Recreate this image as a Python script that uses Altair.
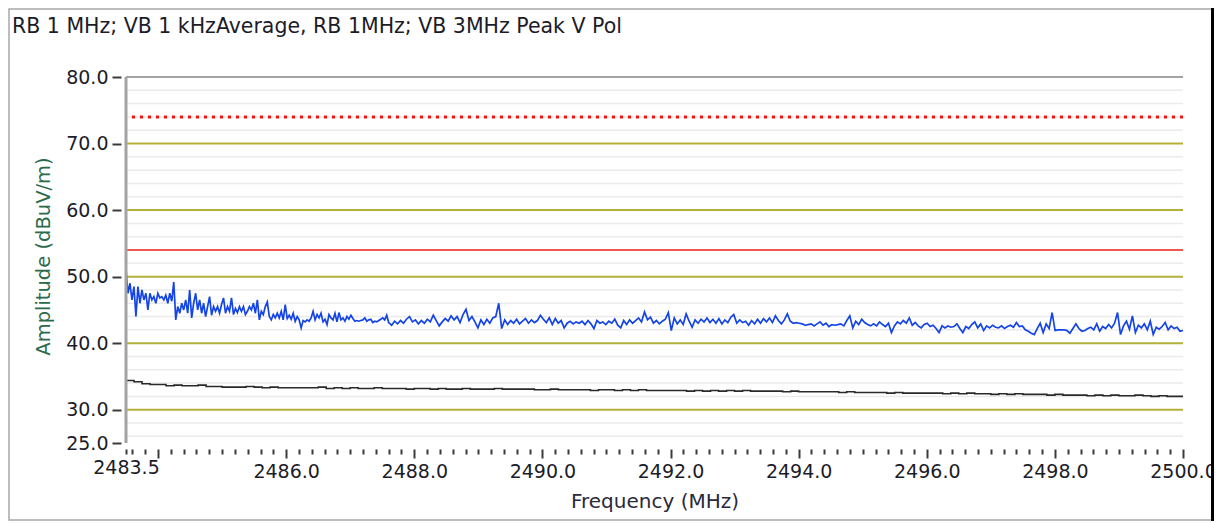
import altair as alt
import pandas as pd
import numpy as np

TITLE = "RB 1 MHz; VB 1 kHzAverage, RB 1MHz; VB 3MHz Peak V Pol"
X_TITLE = "Frequency (MHz)"
Y_TITLE = "Amplitude (dBuV/m)"

F_START, F_END = 2483.5, 2500.0
Y_MIN, Y_MAX = 25.0, 80.0

# Peak trace (blue), first part 2483.5 - 2487.57 MHz
peak_seg1 = [51.0, 47.5, 49.0, 46.5, 48.5, 44.0, 48.5, 46.0, 48.0, 46.5, 47.5, 45.0, 47.5, 46.5, 47.0, 46.0,
             47.5, 46.8, 47.0, 46.5, 47.2, 46.0, 47.5, 46.3, 49.2, 43.5, 45.5, 44.5, 46.0, 45.0, 46.5, 44.5,
             48.0, 43.8, 46.0, 47.5, 45.0, 46.5, 44.5, 46.0, 44.0, 45.5, 47.0, 44.2, 45.5, 44.8, 45.5, 44.5,
             45.8, 46.8, 44.5, 45.5, 44.8, 46.8, 44.3, 45.2, 44.6, 45.5, 44.8, 45.5, 44.3, 44.8, 45.5, 45.0,
             46.0, 44.5, 46.5, 43.5, 44.8, 44.3, 45.5, 46.2, 44.0, 43.5, 44.3, 43.8, 44.5, 43.8, 44.8, 43.5,
             45.8, 43.7, 44.2, 43.6, 44.5, 43.3, 44.0, 43.5, 42.3, 43.4, 43.2, 43.5, 43.3, 43.8, 44.8, 43.5,
             44.3, 43.8, 44.5, 43.2, 43.6, 42.8, 44.3, 43.8, 43.5, 44.5, 43.2, 44.6, 43.5, 43.8, 43.3, 44.0,
             43.6, 44.2, 43.7, 43.3, 43.4, 43.3, 43.4, 43.5, 43.8, 43.3, 43.5, 43.6, 43.1, 43.3, 43.2, 43.4,
             43.6, 43.8, 43.5, 44.2]

# Peak trace (blue), remainder 2487.6 - 2500.0 MHz
peak_rest = [43.1, 42.7, 43.3, 42.9, 43.4, 43.0, 43.6, 44.0, 43.2, 43.5, 42.9, 43.4, 43.0, 43.6, 43.2, 44.2,
             43.4, 42.6, 43.2, 43.7, 43.3, 44.1, 43.5, 44.0, 43.1, 44.3, 45.1, 43.4, 44.0, 43.2, 42.3, 43.5,
             42.8, 43.6, 43.0, 43.8, 44.0, 46.0, 42.2, 43.5, 42.8, 43.4, 43.0, 43.6, 42.9, 43.3, 43.7, 43.0,
             43.5, 43.1, 43.4, 44.2, 43.6, 43.1, 43.8, 42.8, 43.7, 43.0, 43.4, 42.3, 43.0, 43.3, 42.9, 43.2,
             43.0, 43.3, 42.8, 43.4, 42.9, 42.2, 43.4, 43.0, 43.2, 42.8, 43.3, 43.0, 43.6, 42.7, 42.3, 43.4,
             42.8, 43.5, 43.0, 43.4, 43.8, 43.2, 44.7, 43.5, 43.9,
             43.0, 43.4, 42.9, 43.3, 43.6, 44.6, 41.9, 43.8, 42.9, 43.5, 42.8, 44.4, 43.3, 42.4, 43.5, 43.0,
             43.6, 43.2, 43.8, 43.1, 43.6, 43.0, 43.7, 42.9, 43.5, 43.1, 43.9, 44.3, 43.0, 43.5, 43.1, 43.3,
             42.7, 43.4, 42.9, 43.6, 43.0, 43.7, 43.2, 43.8, 43.1, 44.1, 43.4, 42.9, 43.5, 44.4, 43.3, 43.0,
             43.1, 43.0, 42.9, 42.7, 42.8, 42.9, 42.6, 42.9, 43.2, 42.7, 43.0, 42.5, 42.8, 42.7, 42.8, 42.9,
             42.6, 43.4, 44.1, 42.3, 43.3, 42.8, 43.6, 43.1, 42.8, 42.6, 42.9, 42.6, 43.2, 42.8, 42.5, 43.0,
             41.6, 42.6, 43.2, 42.9, 43.4, 43.0, 43.8, 42.7, 43.1,
             42.6, 42.3, 42.8, 43.0, 42.5, 42.7, 42.2, 41.6, 42.6, 42.3, 42.6, 42.4, 42.5, 42.9, 42.2, 41.6,
             42.5, 42.2, 42.8, 43.2, 42.3, 42.9, 41.9, 42.6, 42.3, 42.7, 42.4, 42.3, 42.6, 42.2, 42.5, 42.7,
             42.4, 43.1, 42.5, 42.6, 42.0, 41.8, 41.5, 41.3, 42.2, 43.0, 41.6, 42.9, 42.2, 44.6, 41.9, 42.0,
             42.0, 42.0, 41.9, 41.5, 42.2, 42.9, 42.2, 41.8, 41.9, 42.2, 42.4, 42.0, 42.9, 41.8, 42.5, 42.2,
             42.8, 42.3, 43.0, 44.6, 41.3, 42.6, 43.3, 42.1, 44.1, 41.6, 42.7, 42.3, 42.9, 42.0, 43.3, 41.3,
             42.4, 42.1, 42.5, 43.1, 42.0, 42.6, 42.2, 42.4, 41.8, 41.9]

# Average trace (black), 2483.5 - 2500.0 MHz
avg_trace = [34.4, 34.2, 33.9, 33.8, 33.8, 33.6, 33.7, 33.6, 33.6, 33.7, 33.5, 33.5, 33.4, 33.4, 33.4, 33.5,
             33.4, 33.3, 33.4, 33.3, 33.3, 33.3, 33.3, 33.3, 33.4, 33.2, 33.3, 33.2, 33.3, 33.2, 33.2, 33.3,
             33.2, 33.2,
             33.2, 33.1, 33.2, 33.2, 33.1, 33.2, 33.1, 33.1, 33.2, 33.1, 33.1, 33.1, 33.2, 33.1, 33.1, 33.1,
             33.1, 33.0, 33.0, 33.1, 33.0, 33.0, 33.0, 33.0, 32.9, 33.0, 33.0, 32.9, 33.0, 32.9, 33.0, 32.9,
             32.9,
             32.9, 32.9, 32.9, 32.8, 32.9, 32.8, 32.9, 32.8, 32.9, 32.8, 32.9, 32.8, 32.8, 32.8, 32.8, 32.7,
             32.8, 32.7, 32.7, 32.7, 32.7, 32.7, 32.6, 32.7, 32.6, 32.6, 32.6, 32.6, 32.5, 32.6, 32.5, 32.5,
             32.5,
             32.5, 32.5, 32.4, 32.5, 32.4, 32.5, 32.4, 32.4, 32.3, 32.4, 32.3, 32.4, 32.3, 32.3, 32.3, 32.2,
             32.3, 32.2, 32.2, 32.2, 32.1, 32.2, 32.1, 32.2, 32.1, 32.1, 32.2, 32.1, 32.0, 32.1, 32.0, 32.0,
             32.0]

LIMIT_AVG = [54.0]
LIMIT_PEAK = [74.0]
major_grid = [30, 40, 50, 60, 70]
minor_grid = [v for v in range(26, 80, 2) if v % 10 != 0]
y_ticks = [25, 30, 40, 50, 60, 70, 80]
x_ticks = [2483.5] + [round(2483.6 + 0.2 * i, 1) for i in range(83)]
x_labels = [2483.5, 2486.0, 2488.0, 2490.0, 2492.0, 2494.0, 2496.0, 2498.0, 2500.0]

peak_freq = np.concatenate([np.linspace(F_START, 2487.57, len(peak_seg1)),
                            np.linspace(2487.6, F_END, len(peak_rest))])
peak_df = pd.DataFrame({"freq": peak_freq, "amp": peak_seg1 + peak_rest})
avg_df = pd.DataFrame({"freq": np.linspace(F_START, F_END, len(avg_trace)), "amp": avg_trace})

FONT = "DejaVu Sans"
TEXT = "#1c1c28"
W, H = 1057, 366

label_test = " || ".join(f"datum.value == {v}" for v in x_labels)
major_test = "abs(datum.value/2 - round(datum.value/2)) < 0.001"

x_axis = alt.Axis(
    values=x_ticks, format=".1f", labelExpr=f"({label_test}) ? format(datum.value, '.1f') : ''",
    labelOverlap=False, labelBound=False, labelFlush=False,
    domain=False, grid=False, offset=6,
    tickSize={"condition": {"test": major_test, "value": 9}, "value": 5},
    tickWidth=2, tickColor="#3a3a3a",
    labelFont=FONT, labelFontSize=19, labelColor=TEXT, labelPadding=4,
    title=X_TITLE, titleFont=FONT, titleFontSize=20, titleFontWeight="normal", titleColor="#2a2a3a",
    titleX=W / 2, titleY=52, titleBaseline="middle", titleAlign="center",
)
y_axis = alt.Axis(
    values=y_ticks, format=".1f", domain=False, grid=False, offset=5,
    tickSize=9, tickWidth=2, tickColor="#3a3a3a",
    labelFont=FONT, labelFontSize=19, labelColor=TEXT, labelPadding=4,
    title=Y_TITLE, titleFont=FONT, titleFontSize=19.5, titleFontWeight="normal", titleColor="#2c6a4c",
    titleX=-78, titleY=H / 2 - 4, titleAngle=-90, titleBaseline="middle", titleAlign="center",
)

x_enc = alt.X("freq:Q", scale=alt.Scale(domain=[F_START, F_END], nice=False, zero=False), axis=x_axis)
y_enc = alt.Y("amp:Q", scale=alt.Scale(domain=[Y_MIN, Y_MAX], nice=False, zero=False), axis=y_axis)

minor = alt.Chart(pd.DataFrame({"amp": minor_grid})).mark_rule(color="#ebebeb", strokeWidth=1.5).encode(y=y_enc)
major = alt.Chart(pd.DataFrame({"amp": major_grid})).mark_rule(color="#b3b13a", strokeWidth=2).encode(y=y_enc)
lim_avg = alt.Chart(pd.DataFrame({"amp": LIMIT_AVG})).mark_rule(color="#f0574e", strokeWidth=2).encode(y=y_enc)
lim_peak = alt.Chart(pd.DataFrame({"amp": LIMIT_PEAK})).mark_rule(
    color="#ff1010", strokeWidth=3, strokeDash=[3, 5]).encode(y=y_enc)

avg_line = alt.Chart(avg_df).mark_line(color="#2a2a2a", strokeWidth=1.6, interpolate="step-after").encode(x=x_enc, y=y_enc)
peak_line = alt.Chart(peak_df).mark_line(color="#1444e6", strokeWidth=1.7).encode(x=x_enc, y=y_enc)

top_border = alt.Chart(pd.DataFrame({"amp": [Y_MAX]})).mark_rule(color="#a3a3a3", strokeWidth=2).encode(y=y_enc)
left_border = alt.Chart(pd.DataFrame({"freq": [F_START]})).mark_rule(color="#a3a3a3", strokeWidth=3).encode(x=x_enc)

title_txt = alt.Chart(pd.DataFrame({"t": [TITLE]})).mark_text(
    align="left", baseline="middle", font=FONT, fontSize=20.5, color=TEXT
).encode(text="t:N", x=alt.value(-114), y=alt.value(-50))

frame = alt.Chart(alt.Data(values=[{}])).mark_rect(
    fillOpacity=0, stroke="#a8a8a8", strokeWidth=1.5
).encode(x=alt.value(-117), x2=alt.value(1086), y=alt.value(-68), y2=alt.value(443))
right_edge = alt.Chart(alt.Data(values=[{}])).mark_rule(color="#000000", strokeWidth=3).encode(
    x=alt.value(1086.5), y=alt.value(-69), y2=alt.value(444))

chart = alt.layer(
    frame, minor, major, lim_avg, lim_peak, avg_line, peak_line, top_border, left_border, title_txt, right_edge
).properties(
    width=W, height=H,
    autosize=alt.AutoSizeParams(type="none"),
    padding={"left": 118, "top": 69, "right": 31, "bottom": 78},
    background="white",
).configure_view(stroke=None)

chart.save("out.html", embed_options={"renderer": "svg", "actions": False})
